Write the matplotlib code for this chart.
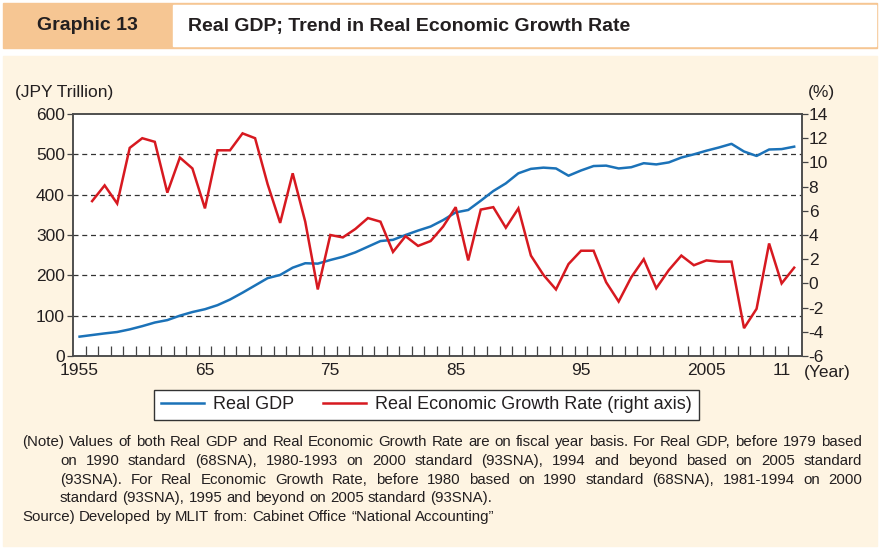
"""Real GDP and real economic growth rate of Japan, FY1955-2012."""
import matplotlib
matplotlib.use("Agg")
import matplotlib.pyplot as plt
from matplotlib.patches import Rectangle
from matplotlib.lines import Line2D

W, H = 880, 551

# fiscal years
gdp_years = list(range(1955, 2013))
growth_years = list(range(1956, 2013))

# real GDP, JPY trillion
real_gdp = [48, 52, 56, 59.5, 66, 74, 83, 89, 100, 109,
            116, 126, 140, 157, 175, 193, 201, 219, 230, 229,
            238, 246, 257, 271, 285, 288, 300, 311, 321, 337,
            356, 362, 385, 409, 428, 453, 464, 467, 465, 447,
            460, 471, 472, 465, 468, 478, 475, 480, 492, 500,
            509, 517, 526, 507, 496, 512, 513, 519]

# real economic growth rate, %
growth_rate = [6.8, 8.1, 6.6, 11.2, 12.0, 11.7, 7.5, 10.4, 9.5, 6.2,
               11.0, 11.0, 12.4, 12.0, 8.2, 5.0, 9.1, 5.1, -0.5, 4.0,
               3.8, 4.5, 5.4, 5.1, 2.6, 3.9, 3.1, 3.5, 4.7, 6.3,
               1.9, 6.1, 6.3, 4.6, 6.2, 2.3, 0.7, -0.5, 1.6, 2.7,
               2.7, 0.1, -1.5, 0.5, 2.0, -0.4, 1.1, 2.3, 1.5, 1.9,
               1.8, 1.8, -3.7, -2.1, 3.3, 0.0, 1.3]

x_ticks = [1955, 1965, 1975, 1985, 1995, 2005, 2011]
x_tick_labels = ["1955", "65", "75", "85", "95", "2005", "11"]
gdp_ticks = [0, 100, 200, 300, 400, 500, 600]
rate_ticks = [-6, -4, -2, 0, 2, 4, 6, 8, 10, 12, 14]

note_lines = [
    "(Note) Values of both Real GDP and Real Economic Growth Rate are on fiscal year basis. For Real GDP, before 1979 based",
    "on 1990 standard (68SNA), 1980-1993 on 2000 standard (93SNA), 1994 and beyond based on 2005 standard",
    "(93SNA). For Real Economic Growth Rate, before 1980 based on 1990 standard (68SNA), 1981-1994 on 2000",
    "standard (93SNA), 1995 and beyond on 2005 standard (93SNA).",
]
source_line = "Source) Developed by MLIT from: Cabinet Office \u201cNational Accounting\u201d"

BLUE = "#1b72b8"
RED = "#d71920"
PEACH = "#f6c693"
CREAM = "#fef4e2"
INK = "#231f20"

FONT = ["Liberation Sans", "DejaVu Sans"]
plt.rcParams["font.family"] = FONT


def fx(px):
    return px / W


def fy(py):
    return 1 - py / H


fig = plt.figure(figsize=(W / 100, H / 100), dpi=100, facecolor="white")

# header band and cream panel
fig.patches.append(Rectangle((fx(3), fy(47.7)), fx(874), 44.4 / H,
                             transform=fig.transFigure, color=PEACH, zorder=-3))
fig.patches.append(Rectangle((fx(173), fy(45.8)), fx(702.5), 40.6 / H,
                             transform=fig.transFigure, color="white", zorder=-2))
fig.patches.append(Rectangle((fx(3), fy(546)), fx(874), 490.3 / H,
                             transform=fig.transFigure, color=CREAM, zorder=-3))
fig.text(fx(87), fy(26), "Graphic 13", fontsize=14, fontweight="bold",
         color=INK, ha="center", va="center")
fig.text(fx(188), fy(26), "Real GDP; Trend in Real Economic Growth Rate",
         fontsize=14, fontweight="bold", color=INK, ha="left", va="center")

ax = fig.add_axes([fx(73.3), fy(356), fx(801.7 - 73.3), (356 - 114) / H])
ax.set_zorder(2)
ax.set_facecolor("white")
ax2 = ax.twinx()
ax2.set_zorder(3)

ax.plot(gdp_years, real_gdp, color=BLUE, lw=1.8, solid_joinstyle="round")
ax2.plot(growth_years, growth_rate, color=RED, lw=1.8, solid_joinstyle="miter")

ax.set_xlim(1954.5, 2012.6)
ax.set_ylim(0, 600)
ax2.set_ylim(-6, 14)

for y in gdp_ticks[1:-1]:
    ax.axhline(y, color="#333333", lw=0.9, ls=(0, (4, 3)), zorder=0.5)

ax.set_xticks(x_ticks)
ax.set_xticklabels(x_tick_labels)
ax.set_xticks([y + 0.5 for y in range(1955, 2012)], minor=True)
ax.tick_params(axis="x", which="major", length=0, pad=5, labelsize=12.5,
               labelcolor=INK)
ax.tick_params(axis="x", which="minor", direction="in", length=7,
               width=0.9, color="#444444")

ax.set_yticks(gdp_ticks)
ax.tick_params(axis="y", direction="out", length=4, width=0.9,
               color="#444444", labelsize=12.5, labelcolor=INK, pad=2)
ax2.set_yticks(rate_ticks)
ax2.set_yticklabels([str(v) for v in rate_ticks])
ax2.tick_params(axis="y", direction="out", length=4, width=0.9,
                color="#444444", labelsize=12.5, labelcolor=INK, pad=1)

for a in (ax, ax2):
    for s in a.spines.values():
        s.set_color("#4a4a4a")
        s.set_linewidth(1.1)

fig.text(fx(15), fy(92), "(JPY Trillion)", fontsize=12.5, color=INK,
         ha="left", va="center")
fig.text(fx(808), fy(92), "(%)", fontsize=12.5, color=INK,
         ha="left", va="center")
fig.text(fx(804), fy(373), "(Year)", fontsize=12.5, color=INK,
         ha="left", va="center")

handles = [Line2D([], [], color=BLUE, lw=1.8),
           Line2D([], [], color=RED, lw=1.8)]
leg = fig.legend(handles, ["Real GDP", "Real Economic Growth Rate (right axis)"],
                 loc="center", bbox_to_anchor=(fx(426.5), fy(405)), ncol=2,
                 frameon=True, fancybox=False, framealpha=1,
                 edgecolor="#333333", handlelength=2.4, handletextpad=0.5,
                 columnspacing=1.6, borderpad=0.35, fontsize=13)
leg.get_frame().set_linewidth(1.0)
for t in leg.get_texts():
    t.set_color(INK)

# justified note block
renderer = fig.canvas.get_renderer()
NOTE_SIZE = 10.8


def justified(line, x0, x1, base, justify=True):
    words = line.split(" ")
    texts = [fig.text(0, fy(base), w, fontsize=NOTE_SIZE, color=INK,
                      ha="left", va="baseline") for w in words]
    widths = [t.get_window_extent(renderer).width for t in texts]
    if justify and len(words) > 1:
        gap = (x1 - x0 - sum(widths)) / (len(words) - 1)
    else:
        sp = fig.text(0, 0, "a a", fontsize=NOTE_SIZE)
        sp2 = fig.text(0, 0, "aa", fontsize=NOTE_SIZE)
        gap = (sp.get_window_extent(renderer).width
               - sp2.get_window_extent(renderer).width)
        sp.remove()
        sp2.remove()
    x = x0
    for t, w in zip(texts, widths):
        t.set_x(fx(x))
        x += w + gap


bases = [446, 465, 484, 502]
for i, line in enumerate(note_lines):
    x0 = 22 if i == 0 else 60
    justified(line, x0, 862, bases[i], justify=(i < 3))
justified(source_line, 22, 862, 521, justify=False)

fig.savefig("out.png", dpi=100, facecolor=fig.get_facecolor())
